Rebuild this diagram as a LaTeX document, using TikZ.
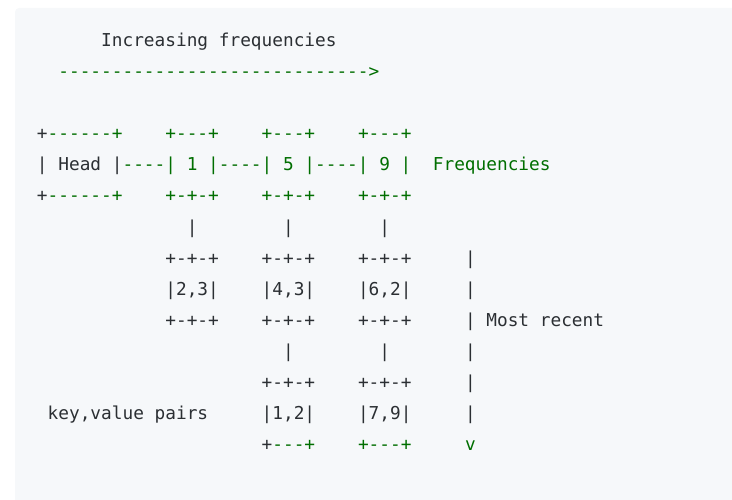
\documentclass[tikz,border=0pt]{standalone}
\usepackage{fontspec}
\setmonofont{DejaVu Sans Mono}
\definecolor{codebg}{HTML}{F6F8FA}
\definecolor{codetxt}{HTML}{2B2F33}
\definecolor{codegrn}{HTML}{006E00}
\tikzset{seg/.style={anchor=base west,inner sep=0pt,outer sep=0pt,
  font=\ttfamily\fontsize{17.77}{20}\selectfont}}
\newcommand\seg[4]{\node[seg,text=#3] (r#1c#2) at ({37+#2*10.7},{46.5+#1*31.1}) {#4};}
\begin{document}
\begin{tikzpicture}[x=1pt,y=-1pt]
\useasboundingbox (0,0) rectangle (732,500);
\fill[codebg,rounded corners=4pt] (15,8) rectangle (740,508);
% row 0-1
\seg{0}{6}{codetxt}{Increasing frequencies}
\seg{1}{2}{codegrn}{----------------------------->}
% row 3
\seg{3}{0}{codetxt}{+}
\seg{3}{1}{codegrn}{------+}
\seg{3}{12}{codegrn}{+---+}
\seg{3}{21}{codegrn}{+---+}
\seg{3}{30}{codegrn}{+---+}
% row 4
\seg{4}{0}{codetxt}{| Head |}
\seg{4}{8}{codegrn}{----| 1 |----| 5 |----| 9 |}
\seg{4}{37}{codegrn}{Frequencies}
% row 5
\seg{5}{0}{codetxt}{+}
\seg{5}{1}{codegrn}{------+}
\seg{5}{12}{codegrn}{+-+-+}
\seg{5}{21}{codegrn}{+-+-+}
\seg{5}{30}{codegrn}{+-+-+}
% row 6
\seg{6}{14}{codetxt}{|}
\seg{6}{23}{codetxt}{|}
\seg{6}{32}{codetxt}{|}
% row 7
\seg{7}{12}{codetxt}{+-+-+}
\seg{7}{21}{codetxt}{+-+-+}
\seg{7}{30}{codetxt}{+-+-+}
\seg{7}{40}{codetxt}{|}
% row 8
\seg{8}{12}{codetxt}{|2,3|}
\seg{8}{21}{codetxt}{|4,3|}
\seg{8}{30}{codetxt}{|6,2|}
\seg{8}{40}{codetxt}{|}
% row 9
\seg{9}{12}{codetxt}{+-+-+}
\seg{9}{21}{codetxt}{+-+-+}
\seg{9}{30}{codetxt}{+-+-+}
\seg{9}{40}{codetxt}{| Most recent}
% row 10
\seg{10}{23}{codetxt}{|}
\seg{10}{32}{codetxt}{|}
\seg{10}{40}{codetxt}{|}
% row 11
\seg{11}{21}{codetxt}{+-+-+}
\seg{11}{30}{codetxt}{+-+-+}
\seg{11}{40}{codetxt}{|}
% row 12
\seg{12}{1}{codetxt}{key,value pairs}
\seg{12}{21}{codetxt}{|1,2|}
\seg{12}{30}{codetxt}{|7,9|}
\seg{12}{40}{codetxt}{|}
% row 13
\seg{13}{21}{codetxt}{+}
\seg{13}{22}{codegrn}{---+}
\seg{13}{30}{codegrn}{+---+}
\seg{13}{40}{codegrn}{v}
\end{tikzpicture}
\end{document}
